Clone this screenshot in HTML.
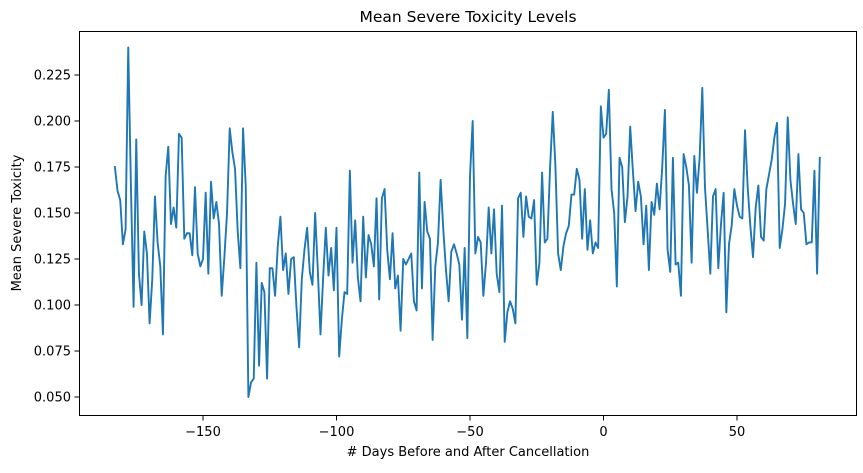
<!DOCTYPE html>
<html>
<head>
<meta charset="utf-8">
<style>
  html, body { margin: 0; padding: 0; background: #ffffff; }
  body { width: 863px; height: 468px; overflow: hidden; }
  svg text { font-family: "DejaVu Sans", "Liberation Sans", sans-serif; fill: #000; }
</style>
</head>
<body>
<svg id="chart" width="863" height="468" viewBox="0 0 863 468" xmlns="http://www.w3.org/2000/svg">
  <rect x="0" y="0" width="863" height="468" fill="#ffffff"/>
  <text x="468" y="22" font-size="15.5" text-anchor="middle">Mean Severe Toxicity Levels</text>
  <text x="0" y="0" font-size="13" text-anchor="middle" transform="translate(21,223) rotate(-90)">Mean Severe Toxicity</text>
  <text x="468" y="456" font-size="13" text-anchor="middle"># Days Before and After Cancellation</text>
  <g id="xticks"></g>
  <g id="yticks"></g>
  <path id="series" fill="none" stroke="#1f77b4" stroke-width="1.9" stroke-linejoin="round" stroke-linecap="square"/>
  <rect x="79.5" y="31.5" width="777" height="384" fill="none" stroke="#000" stroke-width="1"/>
</svg>
<script>
const startDay = -183;
const toxicityValues = [
0.175,0.162,0.157,0.133,0.141,0.240,0.165,0.099,0.190,0.117,0.100,0.140,0.128,0.090,0.114,0.159,0.134,0.121,0.084,0.170,0.186,0.144,0.153,0.142,0.193,0.191,0.136,0.139,0.139,0.127,0.164,0.128,0.121,0.125,0.161,0.117,0.167,0.147,0.156,0.144,0.105,0.126,0.150,0.196,0.183,0.174,
0.140,0.120,0.196,0.165,0.050,0.058,0.060,0.123,0.067,0.112,0.107,0.060,0.120,0.120,0.105,0.132,0.148,0.119,0.128,0.106,0.125,0.126,0.099,0.077,0.114,0.130,0.142,0.118,0.111,0.150,0.119,0.084,0.115,0.142,0.116,0.131,0.108,0.142,0.072,0.092,0.107,0.106,
0.173,0.123,0.146,0.115,0.102,0.148,0.115,0.138,0.133,0.121,0.158,0.103,0.158,0.163,0.130,0.114,0.139,0.109,0.116,0.086,0.125,0.122,0.125,0.128,0.102,0.097,0.172,0.109,0.156,0.140,0.136,0.081,0.121,0.134,0.168,0.141,0.119,0.102,0.129,0.133,0.128,0.122,0.092,0.131,0.082,0.170,0.200,
0.128,0.137,0.134,0.105,0.123,0.153,0.128,0.152,0.117,0.107,0.154,0.080,0.096,0.102,0.098,0.090,0.158,0.161,0.137,0.159,0.148,0.147,0.157,0.111,0.123,0.172,0.134,0.136,0.175,0.205,0.175,0.128,0.119,0.132,0.139,0.143,0.160,0.160,0.174,0.168,0.136,0.163,0.130,0.146,0.128,0.134,0.131,0.208,0.191,
0.193,0.217,0.163,0.150,0.110,0.180,0.175,0.145,0.159,0.197,0.173,0.151,0.167,0.159,0.133,0.154,0.119,0.156,0.149,0.166,0.152,0.175,0.206,0.130,0.118,0.180,0.122,0.123,0.105,0.182,0.175,0.165,0.123,0.181,0.161,0.180,0.218,0.164,0.141,0.117,0.159,0.163,0.120,0.144,0.161,0.096,
0.133,0.143,0.163,0.154,0.148,0.147,0.195,0.164,0.143,0.126,0.153,0.165,0.137,0.135,0.163,0.171,0.179,0.191,0.199,0.131,0.141,0.155,0.202,0.168,0.155,0.144,0.182,0.152,0.150,0.133,0.134,0.134,0.173,0.117,0.180
];
const xTickValues = [-150, -100, -50, 0, 50];
const xTickLabels = ["\u2212150", "\u2212100", "\u221250", "0", "50"];
const yTickValues = [0.050, 0.075, 0.100, 0.125, 0.150, 0.175, 0.200, 0.225];
const yTickLabels = ["0.050", "0.075", "0.100", "0.125", "0.150", "0.175", "0.200", "0.225"];

const NS = "http://www.w3.org/2000/svg";
function xScale(d) { return 603.5 + 2.67 * d; }
function yScale(v) { return 397 - (v - 0.05) * 1840; }

const xg = document.getElementById("xticks");
xTickValues.forEach(function (t, i) {
  const x = xScale(t);
  const ln = document.createElementNS(NS, "line");
  
  
  ln.setAttribute("x1", x); ln.setAttribute("x2", x);
  ln.setAttribute("y1", 415.5); ln.setAttribute("y2", 420.5);
  ln.setAttribute("stroke", "#000"); ln.setAttribute("stroke-width", "1");
  xg.appendChild(ln);
  const tx = document.createElementNS(NS, "text");
  
  
  tx.setAttribute("x", x); tx.setAttribute("y", 436);
  tx.setAttribute("font-size", "13"); tx.setAttribute("text-anchor", "middle");
  tx.textContent = xTickLabels[i];
  xg.appendChild(tx);
});

const yg = document.getElementById("yticks");
yTickValues.forEach(function (t, i) {
  const y = yScale(t);
  const ln = document.createElementNS(NS, "line");
  
  
  ln.setAttribute("x1", 74.5); ln.setAttribute("x2", 79.5);
  ln.setAttribute("y1", y); ln.setAttribute("y2", y);
  ln.setAttribute("stroke", "#000"); ln.setAttribute("stroke-width", "1");
  yg.appendChild(ln);
  const tx = document.createElementNS(NS, "text");
  
  
  tx.setAttribute("x", 71); tx.setAttribute("y", y + 4.5);
  tx.setAttribute("font-size", "13"); tx.setAttribute("text-anchor", "end");
  tx.textContent = yTickLabels[i];
  yg.appendChild(tx);
});

let d = "";
toxicityValues.forEach(function (v, i) {
  const day = startDay + i;
  d += (i === 0 ? "M" : "L") + xScale(day).toFixed(2) + "," + yScale(v).toFixed(2);
});
document.getElementById("series").setAttribute("d", d);
</script>
</body>
</html>
